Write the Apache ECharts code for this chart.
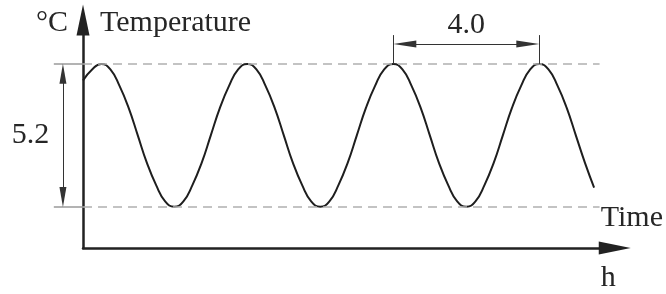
<!DOCTYPE html>
<html>
<head>
<meta charset="utf-8">
<script src="https://cdn.jsdelivr.net/npm/echarts@6/dist/echarts.min.js"></script>
<style>
  html, body { margin: 0; padding: 0; background: #fff; }
  #main { width: 666px; height: 294px; }
</style>
</head>
<body>
<div id="main"></div>
<script>
// hours along the time axis, temperature
const hours = [0, 0.25, 0.5, 0.75, 1, 1.25, 1.5, 1.75, 2, 2.25, 2.5, 2.75, 3, 3.25, 3.5, 3.75,
  4, 4.25, 4.5, 4.75, 5, 5.25, 5.5, 5.75, 6, 6.25, 6.5, 6.75, 7, 7.25, 7.5, 7.75,
  8, 8.25, 8.5, 8.75, 9, 9.25, 9.5, 9.75, 10, 10.25, 10.5, 10.75, 11, 11.25, 11.5, 11.75,
  12, 12.25, 12.5, 12.75, 13, 13.25, 13.5, 13.75, 14];
const temps = [22.0, 22.4,
  22.6, 22.4, 21.8, 21.0, 20.0, 19.0, 18.2, 17.6, 17.4, 17.6, 18.2, 19.0, 20.0, 21.0, 21.8, 22.4,
  22.6, 22.4, 21.8, 21.0, 20.0, 19.0, 18.2, 17.6, 17.4, 17.6, 18.2, 19.0, 20.0, 21.0, 21.8, 22.4,
  22.6, 22.4, 21.8, 21.0, 20.0, 19.0, 18.2, 17.6, 17.4, 17.6, 18.2, 19.0, 20.0, 21.0, 21.8, 22.4,
  22.6, 22.4, 21.8, 21.0, 20.0, 19.0, 18.1];
const peakHours = [0.5, 4.5, 8.5, 12.5];
const labels = { y: 'Temperature', yUnit: '°C', x: 'Time', xUnit: 'h' };

const peakT = Math.max(...temps);
const troughT = Math.min(...temps);

const serif = 'Liberation Serif';
const ink = '#262626';

const mainEl = document.getElementById('main');
const chart = echarts.init(mainEl);

const yMin = 15.9, yMax = 24.2;
const xLeftMin = -2, xMax = 14.6;

const dim = { color: '#333', width: 1, type: 'solid' };

const option = {
  animation: false,
  grid: [
    { left: 10, right: 50, top: 20, bottom: 46 },
    { left: 83, right: 50, top: 20, bottom: 46 }
  ],
  xAxis: [
    { gridIndex: 0, type: 'value', min: xLeftMin, max: xMax, show: false },
    {
      gridIndex: 1, type: 'value', min: 0, max: xMax,
      axisLine: { show: true, symbol: ['none', 'triangle'], symbolSize: [13, 32],
        lineStyle: { color: '#222', width: 2.5 } },
      axisTick: { show: false }, axisLabel: { show: false }, splitLine: { show: false },
      name: labels.x + '\n\n' + labels.xUnit, nameLocation: 'end', nameGap: -14,
      nameTextStyle: { fontFamily: serif, fontSize: 30, color: ink, lineHeight: 30, align: 'left' }
    }
  ],
  yAxis: [
    {
      gridIndex: 0, type: 'value', min: yMin, max: yMax,
      axisLine: { show: true, onZero: true, symbol: ['none', 'triangle'], symbolSize: [13, 31],
        lineStyle: { color: '#222', width: 2.5 } },
      axisTick: { show: false }, axisLabel: { show: false }, splitLine: { show: false },
      name: labels.y, nameLocation: 'end', nameGap: -3,
      nameTextStyle: { fontFamily: serif, fontSize: 30, color: ink, align: 'left',
        verticalAlign: 'middle', padding: [0, 0, 0, 17] }
    },
    {
      gridIndex: 1, type: 'value', min: yMin, max: yMax,
      axisLine: { show: false }, axisTick: { show: false }, axisLabel: { show: false },
      splitLine: { show: false },
      name: labels.yUnit, nameLocation: 'end', nameGap: -3,
      nameTextStyle: { fontFamily: serif, fontSize: 30, color: ink, align: 'right',
        verticalAlign: 'middle', padding: [0, 15, 0, 0] }
    }
  ],
  series: [
    {
      type: 'line',
      xAxisIndex: 0, yAxisIndex: 0,
      data: hours.map((h, i) => [h, temps[i]]),
      smooth: true,
      showSymbol: false,
      silent: true,
      lineStyle: { color: '#1e1e1e', width: 2 },
      z: 3,
      markLine: {
        silent: true,
        symbol: 'none',
        label: { show: false },
        lineStyle: { color: '#b0b0b0', width: 1.5, type: [9, 6] },
        data: [
          // dashed level lines
          [{ coord: [0, peakT] }, { coord: [14.15, peakT] }],
          [{ coord: [0, troughT] }, { coord: [14.15, troughT] }],
          // solid extension lines left of the axis
          [{ coord: [-0.8, peakT], lineStyle: { type: 'solid', color: '#9a9a9a' } }, { coord: [0, peakT] }],
          [{ coord: [-0.8, troughT], lineStyle: { type: 'solid', color: '#9a9a9a' } }, { coord: [0, troughT] }],
          // amplitude dimension
          [
            { coord: [-0.55, peakT - 0.36], lineStyle: dim, symbol: 'triangle', symbolSize: [7, 20] },
            { coord: [-0.55, troughT + 0.36], symbol: 'triangle', symbolSize: [7, 20] }
          ],
          // period extension lines
          [{ coord: [peakHours[2], peakT], lineStyle: dim }, { coord: [peakHours[2], 23.65] }],
          [{ coord: [peakHours[3], peakT], lineStyle: dim }, { coord: [peakHours[3], 23.65] }],
          // period dimension
          [
            {
              coord: [peakHours[2] + 0.315, 23.33], lineStyle: dim,
              symbol: 'triangle', symbolSize: [7, 23],
              label: { show: true, position: 'middle', distance: 4,
                formatter: () => (peakHours[3] - peakHours[2]).toFixed(1),
                fontFamily: serif, fontSize: 30, color: ink }
            },
            { coord: [peakHours[3] - 0.315, 23.33], symbol: 'triangle', symbolSize: [7, 23] }
          ]
        ]
      },
      markPoint: {
        silent: true,
        symbol: 'circle',
        symbolSize: 1,
        itemStyle: { color: 'rgba(0,0,0,0)' },
        label: { show: true, position: 'inside', fontFamily: serif, fontSize: 30, color: ink,
          formatter: () => (peakT - troughT).toFixed(1) },
        data: [{ coord: [-1.44, (peakT + troughT) / 2] }]
      }
    }
  ]
};

chart.setOption(option);
</script>
</body>
</html>
